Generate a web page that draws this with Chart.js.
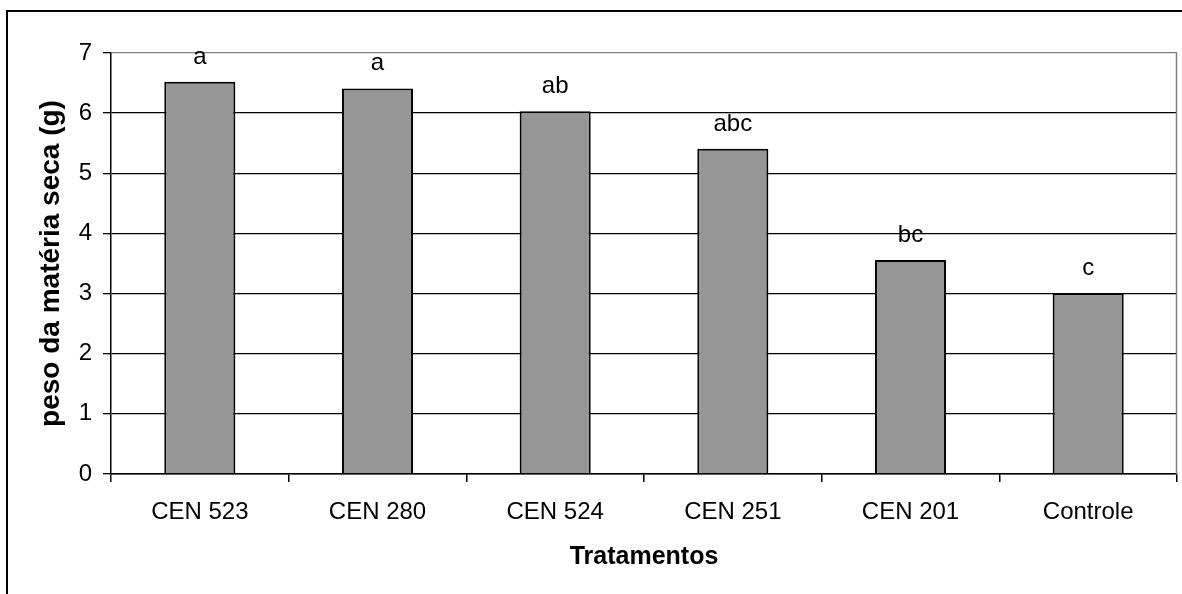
<!DOCTYPE html>
<html>
<head>
<meta charset="utf-8">
<title>peso da matéria seca</title>
<script src="https://cdn.jsdelivr.net/npm/chart.js@4.4.1/dist/chart.umd.min.js"></script>
<style>
    body { margin: 0; background: #fff; }
    #wrap { width: 1182px; height: 594px; position: relative; }
</style>
</head>
<body>
<div id="wrap"><canvas id="DryMatterChart"></canvas></div>
<script>
// data
const tratamentos = ['CEN 523', 'CEN 280', 'CEN 524', 'CEN 251', 'CEN 201', 'Controle'];
const pesoSeco = [6.52, 6.41, 6.03, 5.41, 3.56, 3.01];
const letras = ['a', 'a', 'ab', 'abc', 'bc', 'c'];
const yTicks = [0, 1, 2, 3, 4, 5, 6, 7];

const fonte = '"Liberation Sans", Arial, sans-serif';
let BarFill = '#969696';

// outer frame of the figure + right border of the plot area
const framePlugin = {
    id: 'frame',
    beforeDraw(chart) {
        const ctx = chart.ctx;
        ctx.save();
        ctx.strokeStyle = '#000';
        ctx.lineWidth = 2;
        ctx.strokeRect(7, 11, 2000, 2000);
        ctx.restore();
    },
    beforeDatasetsDraw(chart) {
        const {ctx, chartArea} = chart;
        ctx.save();
        ctx.strokeStyle = '#808080';
        ctx.lineWidth = 1.5;
        ctx.beginPath();
        ctx.moveTo(chartArea.right - 0.5, chartArea.top);
        ctx.lineTo(chartArea.right - 0.5, chartArea.bottom);
        ctx.stroke();
        ctx.restore();
    }
};

// significance letters above each bar
const letrasPlugin = {
    id: 'letras',
    afterDatasetsDraw(chart) {
        const ctx = chart.ctx;
        const meta = chart.getDatasetMeta(0);
        ctx.save();
        ctx.fillStyle = '#000';
        ctx.font = '24px ' + fonte;
        ctx.textAlign = 'center';
        ctx.textBaseline = 'alphabetic';
        meta.data.forEach((bar, i) => {
            ctx.fillText(letras[i], bar.x, bar.y - 18);
        });
        ctx.restore();
    }
};

var ctxChart = document.getElementById('DryMatterChart').getContext('2d');
var myBarChart = new Chart(ctxChart, {
    type: 'bar',
    data: {
        labels: tratamentos,
        datasets: [{
            label: 'peso da matéria seca (g)',
            data: pesoSeco,
            backgroundColor: BarFill,
            borderColor: '#000',
            borderWidth: 2,
            barPercentage: 0.4,
            categoryPercentage: 1.0
        }]
    },
    options: {
        responsive: true,
        maintainAspectRatio: false,
        animation: false,
        layout: {
            padding: { top: 53, right: 5, left: 0, bottom: 0 }
        },
        plugins: {
            legend: { display: false },
            tooltip: { enabled: false }
        },
        scales: {
            x: {
                offset: true,
                afterFit: (scale) => { scale.height = 120; },
                grid: {
                    offset: true,
                    drawOnChartArea: false,
                    drawTicks: true,
                    tickLength: 8,
                    lineWidth: 1.5,
                    color: '#000',
                    tickColor: '#000'
                },
                border: { color: '#000', width: 1.5 },
                ticks: {
                    color: '#000',
                    padding: 16,
                    maxRotation: 0,
                    font: { family: fonte, size: 24 }
                },
                title: {
                    display: true,
                    text: 'Tratamentos',
                    color: '#000',
                    font: { family: fonte, size: 25, weight: 'bold' },
                    padding: { top: 0, bottom: 22 }
                }
            },
            y: {
                min: 0,
                max: 7,
                afterFit: (scale) => { scale.width = 111; },
                afterBuildTicks: (scale) => {
                    scale.ticks = yTicks.map(v => ({ value: v }));
                },
                grid: {
                    color: (c) => (c.tick && c.tick.value === 7 ? '#808080' : '#000'),
                    lineWidth: 1.3,
                    tickLength: 8,
                    tickColor: '#000'
                },
                border: { color: '#000', width: 1.5 },
                ticks: {
                    color: '#000',
                    padding: 11,
                    font: { family: fonte, size: 24 }
                },
                title: {
                    display: true,
                    text: 'peso da matéria seca (g)',
                    color: '#000',
                    font: { family: fonte, size: 28, weight: 'bold' },
                    padding: { top: 34, bottom: 0 }
                }
            }
        }
    },
    plugins: [framePlugin, letrasPlugin]
});
</script>
</body>
</html>
